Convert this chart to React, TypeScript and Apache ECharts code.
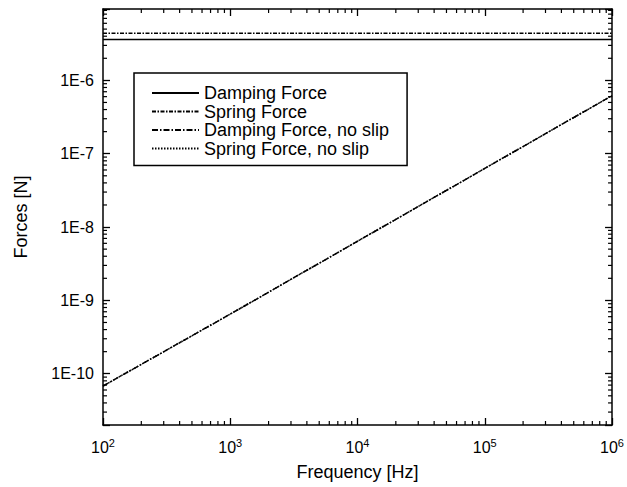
import React, { useEffect, useRef } from "react";
import * as echarts from "echarts";

// ---- data ----
const frequencies = [1e2, 1e3, 1e4, 1e5, 1e6];
const dampingForce = [3.6e-6, 3.6e-6, 3.6e-6, 3.6e-6, 3.6e-6];
const springForce = [4.4e-6, 4.4e-6, 4.4e-6, 4.4e-6, 4.4e-6];
const dampingForceNoSlip = [6.8e-11, 6.5e-10, 6.4e-9, 6.3e-8, 6.2e-7];
const springForceNoSlip = [6.8e-11, 6.5e-10, 6.4e-9, 6.3e-8, 6.2e-7];
const seriesNames = ["Damping Force", "Spring Force", "Damping Force, no slip", "Spring Force, no slip"];

const X_MIN = 1e2;
const X_MAX = 1e6;
const Y_MIN = 2e-11;
const Y_MAX = 9.4e-6;

const FONT = "Liberation Sans, Arial, sans-serif";

function minorTicks(min: number, max: number): number[] {
  const out: number[] = [];
  const lo = Math.floor(Math.log10(min));
  const hi = Math.ceil(Math.log10(max));
  for (let k = lo; k <= hi; k++) {
    for (let m = 2; m <= 9; m++) {
      const v = m * Math.pow(10, k);
      if (v > min && v < max) out.push(v);
    }
  }
  return out;
}

const xMinor = minorTicks(X_MIN, X_MAX);
const yMinor = minorTicks(Y_MIN, Y_MAX);

function isDecade(v: number) {
  const e = Math.log10(v);
  return Math.abs(e - Math.round(e)) < 1e-6;
}

export default function App() {
  const ref = useRef<HTMLDivElement>(null);
  useEffect(() => {
    if (!ref.current) return;
    const chart = echarts.init(ref.current, null, { renderer: "svg" });
    const pair = (ys: number[]) => frequencies.map((f, i) => [f, ys[i]]);
    const axisLine = { show: true, lineStyle: { color: "#000", width: 1.5 } };
    const tick = { show: true, inside: true, length: 7, lineStyle: { color: "#000", width: 1.3 } };
    const tickStyle = { stroke: "#000", lineWidth: 1.2 };
    chart.setOption({
      animation: false,
      backgroundColor: "#fff",
      grid: { left: 103, right: 12, top: 9, bottom: 62, containLabel: false },
      legend: {
        data: seriesNames,
        orient: "vertical",
        left: 134,
        top: 73,
        padding: [11, 18, 8, 17],
        borderColor: "#000",
        borderWidth: 1.5,
        itemWidth: 47,
        itemHeight: 14,
        itemGap: 0.5,
        selectedMode: false,
        itemStyle: { opacity: 0 },
        textStyle: { fontFamily: FONT, fontSize: 18, color: "#000", lineHeight: 18 },
      },
      xAxis: [
        {
          type: "log",
          logBase: 10,
          min: X_MIN,
          max: X_MAX,
          position: "bottom",
          name: "Frequency [Hz]",
          nameLocation: "middle",
          nameGap: 38,
          nameTextStyle: { fontFamily: FONT, fontSize: 18, color: "#000" },
          axisLine,
          axisTick: tick,
          splitLine: { show: false },
          axisLabel: {
            margin: 12,
            color: "#000",
            fontFamily: FONT,
            formatter: (v: number) => (isDecade(v) ? `{b|10}{s|${Math.round(Math.log10(v))}}` : ""),
            rich: {
              b: { fontFamily: FONT, fontSize: 16, lineHeight: 20, color: "#000" },
              s: { fontFamily: FONT, fontSize: 11, lineHeight: 11, verticalAlign: "top", color: "#000" },
            },
          },
        },
        {
          type: "log",
          logBase: 10,
          min: X_MIN,
          max: X_MAX,
          position: "top",
          axisLine,
          axisTick: tick,
          axisLabel: { show: false },
          splitLine: { show: false },
        },
      ],
      yAxis: [
        {
          type: "log",
          logBase: 10,
          min: Y_MIN,
          max: Y_MAX,
          position: "left",
          name: "Forces [N]",
          nameLocation: "middle",
          nameGap: 73,
          nameTextStyle: { fontFamily: FONT, fontSize: 18, color: "#000" },
          axisLine,
          axisTick: tick,
          splitLine: { show: false },
          axisLabel: {
            margin: 9,
            color: "#000",
            fontFamily: FONT,
            fontSize: 16,
            formatter: (v: number) => (isDecade(v) ? `1E${Math.round(Math.log10(v))}` : ""),
          },
        },
        {
          type: "log",
          logBase: 10,
          min: Y_MIN,
          max: Y_MAX,
          position: "right",
          axisLine,
          axisTick: tick,
          axisLabel: { show: false },
          splitLine: { show: false },
        },
      ],
      series: [
        {
          name: seriesNames[0],
          type: "line",
          data: pair(dampingForce),
          symbol: "none",
          lineStyle: { color: "#000", width: 1.6, type: "solid" },
          itemStyle: { color: "#000" },
        },
        {
          name: seriesNames[1],
          type: "line",
          data: pair(springForce),
          symbol: "none",
          lineStyle: { color: "#000", width: 1.5, type: [4, 1.5, 1.5, 1.5] },
          itemStyle: { color: "#000" },
        },
        {
          name: seriesNames[2],
          type: "line",
          data: pair(dampingForceNoSlip),
          symbol: "none",
          lineStyle: { color: "#000", width: 1.5, type: [6, 2, 1.5, 2] },
          itemStyle: { color: "#000" },
        },
        {
          name: seriesNames[3],
          type: "line",
          data: pair(springForceNoSlip),
          symbol: "none",
          lineStyle: { color: "#000", width: 1.5, type: [1.5, 1.5] },
          itemStyle: { color: "#000" },
        },
        {
          type: "custom",
          silent: true,
          data: yMinor.map((v) => [X_MIN, v]),
          renderItem: (_p: any, api: any) => {
            const v = api.value(1);
            const l = api.coord([X_MIN, v]);
            const r = api.coord([X_MAX, v]);
            return {
              type: "group",
              children: [
                { type: "line", shape: { x1: l[0], y1: l[1], x2: l[0] + 4, y2: l[1] }, style: tickStyle },
                { type: "line", shape: { x1: r[0], y1: r[1], x2: r[0] - 4, y2: r[1] }, style: tickStyle },
              ],
            };
          },
        },
        {
          type: "custom",
          silent: true,
          data: xMinor.map((v) => [v, Y_MIN]),
          renderItem: (_p: any, api: any) => {
            const v = api.value(0);
            const b = api.coord([v, Y_MIN]);
            const t = api.coord([v, Y_MAX]);
            return {
              type: "group",
              children: [
                { type: "line", shape: { x1: b[0], y1: b[1], x2: b[0], y2: b[1] - 4 }, style: tickStyle },
                { type: "line", shape: { x1: t[0], y1: t[1], x2: t[0], y2: t[1] + 4 }, style: tickStyle },
              ],
            };
          },
        },
      ],
    });
    return () => chart.dispose();
  }, []);
  return <div ref={ref} style={{ position: "fixed", left: 0, top: 0, width: 627, height: 487 }} />;
}
